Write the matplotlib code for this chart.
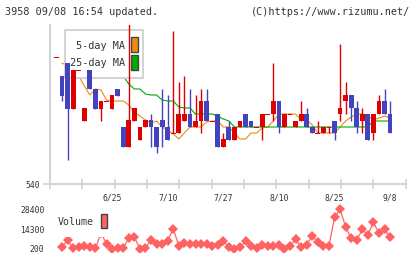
import numpy as np
import matplotlib
matplotlib.use("Agg")
import matplotlib.pyplot as plt
from matplotlib.patches import Rectangle

title_left = "3958 09/08 16:54 updated."
title_right = "(C)https://www.rizumu.net/"

# ---- data (price in yen) ----
opens = [667, 648, 661, 615, 654, 603, 654, 635, 615, 623, 615, 635, 597, 577, 603, 584,
         597, 604, 597, 604, 597, 591, 591, 603, 610, 597, 603, 623, 603, 610, 577, 597,
         584, 597, 610, 603, 597, 597, 610, 610, 623, 597, 610, 597, 603, 610, 597, 591,
         591, 597, 603, 610, 623, 629, 616, 603, 610, 591, 610, 623, 610]
highs = [667, 648, 661, 654, 654, 616, 654, 635, 623, 623, 629, 635, 597, 704, 616, 597,
         604, 610, 597, 635, 629, 693, 642, 648, 635, 629, 635, 635, 603, 610, 591, 603,
         597, 603, 610, 603, 597, 610, 610, 661, 623, 610, 610, 603, 623, 616, 597, 603,
         597, 597, 603, 680, 642, 629, 623, 616, 610, 610, 629, 635, 623]
lows = [667, 623, 564, 615, 654, 603, 635, 615, 603, 623, 615, 628, 577, 577, 603, 584,
        597, 577, 571, 577, 584, 591, 591, 603, 597, 597, 591, 603, 603, 577, 577, 584,
        584, 597, 597, 597, 597, 584, 610, 603, 591, 597, 610, 597, 603, 597, 591, 591,
        591, 591, 584, 603, 610, 603, 591, 591, 584, 584, 610, 610, 591]
closes = [667, 628, 615, 654, 654, 616, 635, 615, 623, 623, 629, 628, 577, 604, 616, 597,
          604, 597, 577, 597, 584, 591, 610, 610, 597, 603, 623, 603, 603, 577, 585, 584,
          597, 603, 597, 597, 597, 610, 610, 623, 597, 610, 610, 603, 610, 597, 591, 591,
          597, 597, 591, 616, 629, 616, 597, 610, 584, 610, 623, 610, 591]
ma5 = [np.nan, 661, 658, 654, 648, 638, 629, 635, 634, 624, 623, 623, 623, 619, 612, 608,
       604, 601, 603, 597, 594, 590, 585, 591, 597, 597, 597, 602, 603, 603, 597, 597,
       591, 585, 585, 591, 591, 596, 597, 603, 610, 610, 610, 610, 604, 604, 599, 591,
       591, 591, 591, 597, 603, 607, 610, 610, 608, 604, 606, 608, 606]
ma25 = [np.nan] * 11 + [652, 648, 640, 635, 635, 630, 629, 629, 624, 623, 623, 617, 616,
                        616, 610, 610, 610, 610, 608, 605, 603] + [597] * 25 + [603] * 4
volume = [np.nan, 1400, 6400, 440, 1400, 1870, 1400, 440, 11200, 3800, 200, 440, 440,
          7850, 8560, 200, 440, 6180, 3800, 3800, 5940, 14540, 2110, 4500, 3800, 3300,
          3300, 3300, 1870, 2590, 5700, 1400, 200, 1400, 5460, 2110, 440, 3070, 2110,
          2110, 3070, 200, 2110, 6890, 1400, 3070, 9280, 4980, 2110, 2110, 22670, 28400,
          15970, 7610, 6180, 14060, 10000, 19080, 11200, 14060, 8330]
date_pos = [10, 20, 30, 40, 50, 60]
date_labels = ["6/25", "7/10", "7/27", "8/10", "8/25", "9/8"]
price_ticks = [540]
vol_ticks = [200, 14300, 28400]

# ---- style ----
RED = "#DD0000"
BLUE = "#4343BF"
ORANGE = "#EE8A10"
GREEN = "#00AA00"
VOLC = "#FF6262"
GRID = "#D4D4D4"
TXT = "#333333"
MONO = "DejaVu Sans Mono"

W, H = 420, 259
fig = plt.figure(figsize=(W / 100, H / 100), dpi=100)


def fx(px):
    return px / W


def fy(py):
    return 1 - py / H


n = len(opens)
x = np.arange(n)
x0 = (50 - 56.5) / 5.56
x1 = (405.7 - 56.5) / 5.56

ax = fig.add_axes([fx(50), fy(184), (405.7 - 50) / W, 159 / H])
ax.set_xlim(x0, x1)
ax.set_ylim(540, 699)

o = np.array(opens, float)
c = np.array(closes, float)
hi = np.array(highs, float)
lo = np.array(lows, float)
colors = [RED if cc >= oo else BLUE for oo, cc in zip(o, c)]

# moving averages (below legend box and candles)
ax.plot(x, ma5, color=ORANGE, lw=0.8, zorder=1)
ax.plot(x, ma25, color=GREEN, lw=0.8, zorder=1)

# candles
ax.vlines(x, lo, hi, colors=colors, lw=1.0, zorder=3)
body_lo = np.minimum(o, c)
body_h = np.maximum(np.abs(c - o), 1.0)
ax.bar(x, body_h, bottom=body_lo - np.where(np.abs(c - o) < 1, 0.5, 0), width=0.86,
       color=colors, linewidth=0, zorder=3)

for s in ["top", "right"]:
    ax.spines[s].set_visible(False)
for s in ["left", "bottom"]:
    ax.spines[s].set_color(GRID)
    ax.spines[s].set_linewidth(1.5)

ax.set_xticks(date_pos)
ax.set_xticklabels(date_labels, fontfamily=MONO, fontsize=5.8, color=TXT)
ax.tick_params(axis="x", which="major", length=0, pad=7)
ax.set_xticks(np.linspace(x0, x1, 12), minor=True)
ax.tick_params(axis="x", which="minor", direction="inout", length=6.5, width=1.2, color=GRID)
ax.set_yticks(price_ticks)
ax.set_yticklabels([str(v) for v in price_ticks], fontfamily=MONO, fontsize=5.8, color=TXT)
ax.tick_params(axis="y", length=5, width=1.2, color=GRID, pad=2)


def prect(axis, px0, py0, px1, py1, **kw):
    r = Rectangle((fx(px0), fy(py1)), fx(px1) - fx(px0), fy(py0) - fy(py1),
                  transform=fig.transFigure, clip_on=False, **kw)
    axis.add_patch(r)
    return r


# MA legend box
prect(ax, 65, 30, 143, 78, facecolor="white", edgecolor=GRID, lw=1.5, zorder=2)
ax.text(fx(125.5), fy(46), "5-day MA", transform=fig.transFigure, ha="right", va="center",
        fontfamily=MONO, fontsize=7.3, color=TXT, zorder=2.5)
ax.text(fx(125.5), fy(63), "25-day MA", transform=fig.transFigure, ha="right", va="center",
        fontfamily=MONO, fontsize=7.3, color=TXT, zorder=2.5)
prect(ax, 131, 37, 138, 52, facecolor=ORANGE, edgecolor="#444444", lw=1, zorder=2.5)
prect(ax, 131, 54.5, 138, 69.5, facecolor=GREEN, edgecolor="#444444", lw=1, zorder=2.5)

# volume
vax = fig.add_axes([fx(50), fy(252), (405.7 - 50) / W, 48 / H])
vax.set_xlim(x0, x1)
vax.set_ylim(-2190, 32230)
for s in vax.spines.values():
    s.set_visible(False)
vax.set_xticks([])
vax.set_yticks(vol_ticks)
vax.set_yticklabels([str(v) for v in vol_ticks], fontfamily=MONO, fontsize=5.8, color=TXT)
vax.tick_params(axis="y", length=0, pad=4)
vax.plot(x, volume, color=VOLC, lw=0.9, marker="D", markersize=4.8, markeredgewidth=0,
         zorder=2)
prect(vax, 55, 209, 111, 237, facecolor="white", edgecolor="none", zorder=3)
vax.text(fx(58), fy(222), "Volume", transform=fig.transFigure, ha="left", va="center",
         fontfamily=MONO, fontsize=7.1, color=TXT, zorder=4)
prect(vax, 101, 213.5, 107.5, 228, facecolor=VOLC, edgecolor="#444444", lw=1, zorder=4)

fig.text(fx(5), fy(12), title_left, ha="left", va="center", fontfamily=MONO,
         fontsize=7.3, color=TXT)
fig.text(fx(410), fy(12), title_right, ha="right", va="center", fontfamily=MONO,
         fontsize=7.3, color=TXT)

fig.savefig("out.png", dpi=100, facecolor="white")
